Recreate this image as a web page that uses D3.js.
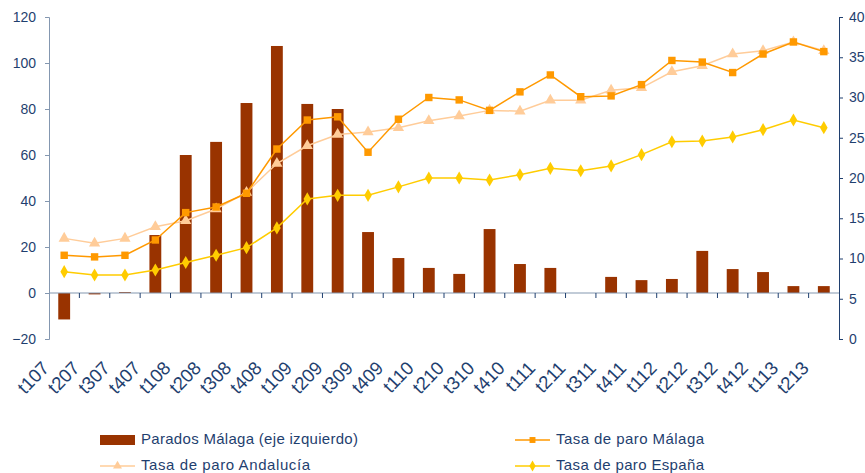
<!DOCTYPE html>
<html><head><meta charset="utf-8">
<script src="https://cdn.jsdelivr.net/npm/d3@7"></script>
<style>body{margin:0;background:#fff;font-family:"Liberation Sans",Arial,sans-serif;}</style>
</head><body><svg id="c" width="865" height="473"></svg>
<script>
const categories=["t107","t207","t307","t407","t108","t208","t308","t408","t109","t209","t309","t409","t110","t210","t310","t410","t111","t211","t311","t411","t112","t212","t312","t412","t113","t213"];
const paradosMalaga=[-11.5,-0.6,0.4,25.2,60,65.7,82.6,107.4,82.2,80,26.5,15.2,10.9,8.3,27.8,12.6,10.9,0,7.0,5.6,6.1,18.3,10.4,9.1,3.0,3.0];
const tasaMalaga=[10.4,10.2,10.4,12.3,15.7,16.4,18.1,23.6,27.2,27.6,23.2,27.3,30.0,29.7,28.4,30.7,32.8,30.1,30.2,31.6,34.6,34.4,33.1,35.4,36.9,35.7];
const tasaAndalucia=[12.5,11.9,12.5,13.95,14.7,16.15,18.2,21.8,24.0,25.4,25.7,26.25,27.1,27.7,28.4,28.3,29.65,29.65,30.9,31.2,33.2,33.95,35.4,35.8,36.9,35.8];
const tasaEspana=[8.36,7.95,7.95,8.57,9.5,10.4,11.35,13.8,17.4,17.85,17.85,18.9,20.0,20.0,19.75,20.4,21.2,20.9,21.5,22.9,24.5,24.6,25.1,26.0,27.2,26.25];
const leftTicks=[-20,0,20,40,60,80,100,120];
const rightTicks=[0,5,10,15,20,25,30,35,40];

const svg=d3.select("#c");
const L=49,R=839,T=17,B=339;
const txt="#1F3F6F";
const FF="Liberation Sans, Arial, sans-serif";
const x=d3.scaleBand().domain(categories).range([L,R]).paddingInner(0.61).paddingOuter(0.305);
const xb=d3.scaleBand().domain(categories).range([L,R]);
const yL=d3.scaleLinear().domain([-20,120]).range([B,T]);
const yR=d3.scaleLinear().domain([0,40]).range([B,T]);

// bars
svg.append("g").selectAll("rect").data(paradosMalaga).join("rect")
 .attr("x",(d,i)=>x(categories[i])).attr("width",x.bandwidth())
 .attr("y",d=>Math.min(yL(d),yL(0))).attr("height",d=>Math.abs(yL(d)-yL(0)))
 .attr("fill","#993300");

// left axis
const gl=svg.append("g").attr("transform",`translate(${L},0)`)
 .call(d3.axisLeft(yL).tickValues(leftTicks).tickSize(4).tickPadding(9));
gl.select(".domain").attr("stroke","#8497B0");
gl.selectAll(".tick line").attr("stroke","#8497B0");
gl.selectAll("text").attr("fill",txt).style("font-size","14px").style("font-family",FF);

// right axis
const gr=svg.append("g").attr("transform",`translate(${R},0)`)
 .call(d3.axisRight(yR).tickValues(rightTicks).tickSize(4).tickPadding(6));
gr.select(".domain").attr("stroke","#1F3F6F");
gr.selectAll(".tick line").attr("stroke","#1F3F6F");
gr.selectAll("text").attr("fill",txt).style("font-size","14px").style("font-family",FF);

// x axis at zero
const gx=svg.append("g").attr("transform",`translate(0,${yL(0)})`);
gx.append("line").attr("x1",L).attr("x2",R).attr("stroke","#8497B0").attr("stroke-width",1.2);
gx.selectAll("line.t").data(categories.slice(1)).join("line").attr("class","t")
 .attr("x1",d=>xb(d)).attr("x2",d=>xb(d)).attr("y1",0).attr("y2",5).attr("stroke","#1F3F6F");

// x labels
svg.append("g").selectAll("text").data(categories).join("text")
 .attr("transform",d=>`translate(${xb(d)+xb.bandwidth()/2-14},${369}) rotate(-46)`)
 .attr("text-anchor","end").attr("fill",txt)
 .style("font-size","18.5px").style("font-family",FF)
 .text(d=>d);

// lines
const cx=c=>xb(c)+xb.bandwidth()/2;
function series(vals,color,sym,size,w){
  const line=d3.line().x((d,i)=>cx(categories[i])).y(d=>yR(d));
  svg.append("path").datum(vals).attr("d",line).attr("fill","none").attr("stroke",color).attr("stroke-width",w);
  svg.append("g").selectAll("path").data(vals).join("path")
   .attr("transform",(d,i)=>`translate(${cx(categories[i])},${yR(d)})`)
   .attr("d",d3.symbol(sym,size)).attr("fill",color);
}
series(tasaEspana,"#FFCC00",d3.symbolDiamond,50,1.5);
series(tasaAndalucia,"#FFCC99",d3.symbolTriangle,55,1.5);
series(tasaMalaga,"#FF9900",d3.symbolSquare,55,1.5);

// legend
const lg=svg.append("g").style("font-size","15px").style("font-family",FF);
lg.append("rect").attr("x",100).attr("y",435).attr("width",35).attr("height",10).attr("fill","#993300");
lg.append("text").attr("x",141).attr("y",443.5).attr("fill",txt).attr("textLength",217).attr("lengthAdjust","spacing").text("Parados Málaga (eje izquierdo)");
function legLine(x0,y0,color,sym,size,label,len){
  lg.append("line").attr("x1",x0).attr("x2",x0+35).attr("y1",y0).attr("y2",y0).attr("stroke",color).attr("stroke-width",1.5);
  lg.append("path").attr("transform",`translate(${x0+17.5},${y0})`).attr("d",d3.symbol(sym,size)).attr("fill",color);
  lg.append("text").attr("x",x0+41).attr("y",y0+3.5).attr("fill",txt).attr("textLength",len).attr("lengthAdjust","spacing").text(label);
}
legLine(515,440,"#FF9900",d3.symbolSquare,35,"Tasa de paro Málaga",148);
legLine(100,466,"#FFCC99",d3.symbolTriangle,35,"Tasa de paro Andalucía",169);
legLine(515,466,"#FFCC00",d3.symbolDiamond,35,"Tasa de paro España",148);
</script></body></html>
